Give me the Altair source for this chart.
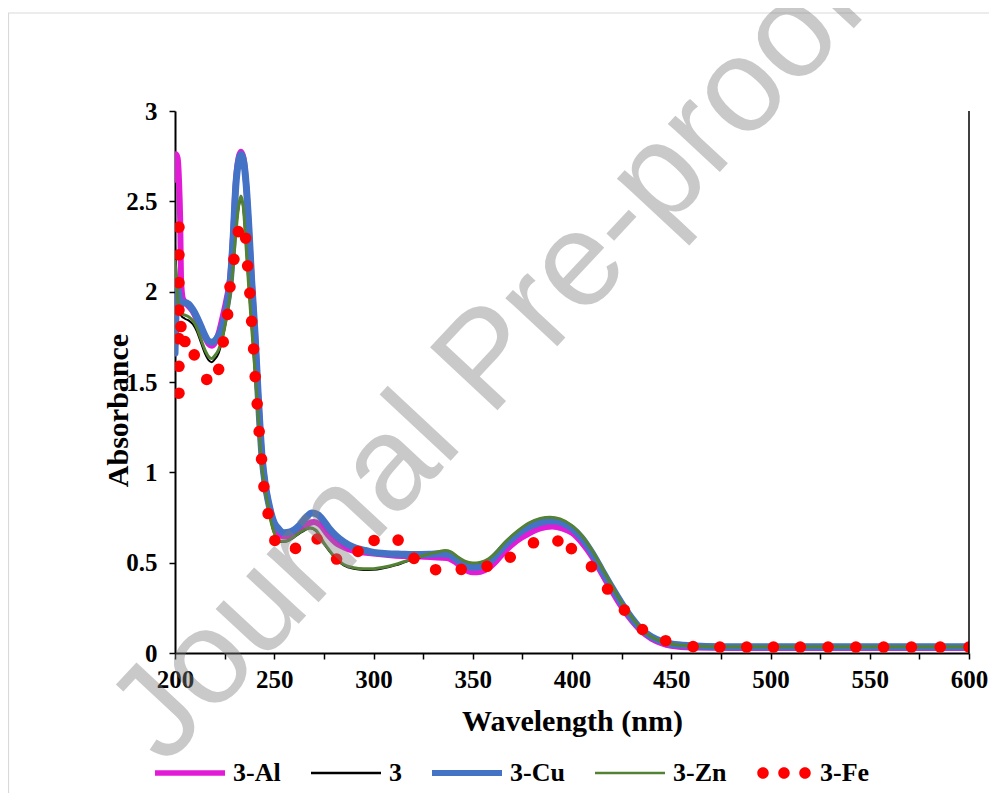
import altair as alt
import pandas as pd

# ---------------- data ----------------
series_names = ["3-Al", "3", "3-Cu", "3-Zn", "3-Fe"]
series_colors = ["#E21CD6", "#000000", "#4472C4", "#548235", "#FF0000"]

al_wl = [200, 200.4, 201.3, 202.0, 202.6, 203.1, 204, 206, 209, 212, 215, 217, 218.5, 220, 222, 224, 226,
         227.8, 229.3, 230.6, 232, 233.2, 234.5, 235.8, 237.2, 238.6, 240.3, 241.9, 243.9, 245.5, 247, 248.5,
         250, 253, 256, 260, 264, 268, 270, 273, 277, 281, 285, 290, 300, 310, 320, 330, 337, 341, 345, 350,
         354, 358, 362, 366, 372, 378, 384, 390, 395, 400, 405, 410, 415, 420, 425, 430, 435, 440, 445, 450,
         460, 480, 600]
al_abs = [2.62, 2.76, 2.74, 2.62, 2.4, 2.05, 1.96, 1.93, 1.89, 1.82, 1.75, 1.71, 1.70, 1.715, 1.77, 1.86, 1.96,
          2.08, 2.32, 2.6, 2.74, 2.775, 2.74, 2.6, 2.35, 2.07, 1.77, 1.43, 1.08, 0.93, 0.84, 0.77,
          0.71, 0.65, 0.645, 0.66, 0.69, 0.72, 0.725, 0.71, 0.655, 0.61, 0.585, 0.565, 0.55, 0.54, 0.535, 0.53,
          0.525, 0.505, 0.47, 0.447, 0.45, 0.47, 0.51, 0.56, 0.62, 0.66, 0.69, 0.70, 0.69, 0.665, 0.61, 0.535,
          0.44, 0.345, 0.255, 0.18, 0.12, 0.08, 0.055, 0.04, 0.03, 0.028, 0.028]

b_wl = [200, 201, 202, 203, 205, 207, 209, 211, 213, 215, 217, 218.5, 220, 222, 224, 226, 228.5, 230.3, 232,
        233.2, 234.4, 235.8, 237, 238.3, 240, 241.5, 243.5, 245.2, 246.8, 248.5, 250, 252, 253, 256, 260, 264,
        268, 271, 275, 278, 281, 285, 290, 295, 300, 305, 311, 316, 321, 327, 333, 336, 339, 342, 346, 350,
        354, 358, 362, 366, 372, 378, 384, 389, 394, 400, 405, 410, 415, 420, 425, 430, 435, 440, 445, 450,
        460, 475, 600]
b_abs = [2.26, 2.05, 1.92, 1.87, 1.85, 1.84, 1.82, 1.78, 1.72, 1.66, 1.62, 1.61, 1.625, 1.66, 1.74, 1.86, 2.065,
         2.3, 2.46, 2.51, 2.46, 2.25, 2.05, 1.85, 1.6, 1.38, 1.06, 0.92, 0.82, 0.72, 0.66, 0.625, 0.615, 0.617,
         0.64, 0.67, 0.69, 0.675, 0.605, 0.56, 0.52, 0.485, 0.466, 0.46, 0.461, 0.469, 0.485, 0.503, 0.52,
         0.542, 0.56, 0.565, 0.558, 0.533, 0.505, 0.495, 0.5, 0.519, 0.557, 0.607, 0.668, 0.716, 0.743, 0.75,
         0.74, 0.703, 0.648, 0.568, 0.473, 0.373, 0.278, 0.198, 0.134, 0.09, 0.065, 0.05, 0.04, 0.035, 0.035]

cu_wl = [200, 200.6, 201.3, 202, 203, 205, 207, 209, 211, 213, 215, 217, 218.5, 221, 223, 225, 226.5, 227.9,
         229.3, 230.6, 232, 233.3, 234.6, 235.8, 237.2, 238.6, 240.3, 241.9, 243.9, 245.5, 247, 248.5, 250, 252,
         255, 258, 263, 266, 269, 272, 275, 278, 281, 285, 290, 295, 300, 307, 314, 320, 328, 334, 338, 341,
         344, 347, 350, 354, 357, 360, 364, 370, 376, 382, 388, 392, 396, 400, 405, 410, 415, 420, 425, 430,
         435, 440, 445, 450, 460, 475, 600]
cu_abs = [1.66, 1.92, 2.02, 1.98, 1.93, 1.94, 1.93, 1.9, 1.86, 1.81, 1.76, 1.725, 1.72, 1.74, 1.78, 1.86, 1.95,
          2.065, 2.3, 2.58, 2.72, 2.76, 2.72, 2.6, 2.36, 2.065, 1.77, 1.43, 1.08, 0.93, 0.84, 0.77, 0.72, 0.69,
          0.665, 0.67, 0.71, 0.75, 0.775, 0.765, 0.73, 0.685, 0.65, 0.615, 0.585, 0.57, 0.557, 0.55, 0.547,
          0.545, 0.546, 0.55, 0.545, 0.525, 0.5, 0.482, 0.475, 0.478, 0.493, 0.52, 0.57, 0.635, 0.685, 0.715,
          0.73, 0.73, 0.715, 0.69, 0.635, 0.555, 0.46, 0.365, 0.275, 0.195, 0.13, 0.09, 0.065, 0.05, 0.04,
          0.035, 0.035]

zn_wl = [200, 200.6, 201.5, 203, 205, 207, 209, 211, 213, 215, 217, 218.5, 220, 222, 224, 226, 228.7, 230.5,
         232, 233.2, 234.4, 235.8, 237, 238.3, 240, 241.5, 243.5, 245.2, 246.8, 248.5, 250, 252, 253, 256, 260,
         264, 268, 271, 275, 278, 281, 285, 290, 295, 300, 305, 311, 316, 321, 327, 333, 336, 339, 342, 346,
         350, 354, 358, 362, 366, 372, 378, 384, 389, 394, 400, 405, 410, 415, 420, 425, 430, 435, 440, 445,
         450, 460, 475, 600]
zn_abs = [2.17, 2.08, 1.95, 1.88, 1.87, 1.86, 1.84, 1.8, 1.74, 1.68, 1.64, 1.63, 1.645, 1.68, 1.75, 1.86, 2.065,
          2.3, 2.47, 2.53, 2.47, 2.25, 2.05, 1.85, 1.6, 1.38, 1.06, 0.92, 0.82, 0.72, 0.665, 0.63, 0.618, 0.62,
          0.645, 0.675, 0.693, 0.68, 0.61, 0.565, 0.525, 0.49, 0.472, 0.466, 0.467, 0.475, 0.49, 0.508, 0.525,
          0.545, 0.562, 0.567, 0.56, 0.535, 0.508, 0.498, 0.503, 0.522, 0.56, 0.61, 0.67, 0.718, 0.745, 0.752,
          0.742, 0.705, 0.65, 0.57, 0.475, 0.375, 0.28, 0.2, 0.135, 0.09, 0.065, 0.05, 0.04, 0.035, 0.035]

fe_wl = [202.0, 202.0, 202.0, 202.0, 202.0, 202.0, 202.0, 203.0, 205.0, 209.7, 216.0, 222.0, 224.3, 226.5,
         227.7, 229.7, 231.9, 235.6, 236.6, 237.7, 238.6, 239.6, 240.4, 241.4, 242.4, 243.6, 244.8, 246.9,
         250.3, 260.7, 271.6, 281.4, 292.2, 300.3, 312.4, 320.4, 331.3, 344.2, 357.2, 368.9, 380.6, 392.9,
         399.7, 409.8, 417.9, 426.4, 435.5, 447.2, 461, 474.5, 488, 501.5, 515, 529, 543, 557, 571, 585.5, 600]
fe_abs = [1.438, 1.587, 1.74, 1.898, 2.05, 2.204, 2.357, 1.807, 1.724, 1.65, 1.514, 1.57, 1.722, 1.874,
          2.027, 2.179, 2.332, 2.296, 2.143, 1.992, 1.836, 1.683, 1.53, 1.379, 1.226, 1.073, 0.921, 0.772,
          0.623, 0.579, 0.631, 0.52, 0.562, 0.623, 0.625, 0.524, 0.461, 0.463, 0.48, 0.53, 0.61, 0.62,
          0.578, 0.478, 0.354, 0.237, 0.13, 0.068, 0.035, 0.033, 0.033, 0.033, 0.033, 0.033, 0.033, 0.033,
          0.033, 0.033, 0.033]

x_ticks = list(range(200, 601, 25))
y_ticks = [0, 0.5, 1, 1.5, 2, 2.5, 3]
watermark = ["Journal Pre-proof"]
frame = ["frame"]

# legend symbols (unit = 5 px at symbolSize 100)
def bar_path(h):
    return f"M-7,{-h}L7,{-h}L7,{h}L-7,{h}Z"

def dots_path(xs, r):
    parts = []
    for cx in xs:
        parts.append(f"M{cx - r},0A{r},{r} 0 1,0 {cx + r},0A{r},{r} 0 1,0 {cx - r},0Z")
    return "".join(parts)

legend_shapes = [bar_path(0.55), bar_path(0.25), bar_path(0.62), bar_path(0.27),
                 dots_path([-2.8, 1.4, 5.6], 1.15)]

# ---------------- chart ----------------
serif = "Liberation Serif"

x_enc = alt.X("wl:Q",
              scale=alt.Scale(domain=[200, 600], nice=False, zero=False),
              axis=alt.Axis(values=x_ticks, format="d",
                            labelExpr="datum.value % 50 == 0 ? datum.label : ''",
                            tickSize=6, tickWidth=1.5, domainWidth=2, labelPadding=8,
                            labelFontSize=25, titleFontSize=30, titleY=77,
                            titleBaseline="alphabetic", labelFlush=False, labelOverlap=False,
                            grid=False),
              title="Wavelength (nm)")
y_enc = alt.Y("abs:Q",
              scale=alt.Scale(domain=[0, 3], nice=False),
              axis=alt.Axis(values=y_ticks, format="~g", tickSize=6, tickWidth=1.5, domainWidth=2,
                            labelPadding=12, labelFontSize=25, titleFontSize=30,
                            titleX=-57, titleY=299, titleAngle=270, titleBaseline="middle",
                            titleAlign="center", labelFlush=False, labelOverlap=False, grid=False),
              title="Absorbance")


def line_layer(wl, ab, color, width):
    df = pd.DataFrame({"wl": wl, "abs": ab})
    return alt.Chart(df).mark_line(color=color, strokeWidth=width, interpolate="monotone",
                                   clip=True, strokeJoin="round", strokeCap="round").encode(x=x_enc, y=y_enc)


al_layer = line_layer(al_wl, al_abs, series_colors[0], 6)
b_layer = line_layer(b_wl, b_abs, series_colors[1], 2)
cu_layer = line_layer(cu_wl, cu_abs, series_colors[2], 7)
zn_layer = line_layer(zn_wl, zn_abs, series_colors[3], 3)

fe_layer = alt.Chart(pd.DataFrame({"wl": fe_wl, "abs": fe_abs})).mark_circle(
    color=series_colors[4], size=135, opacity=1, clip=True).encode(x=x_enc, y=y_enc)

border_layer = alt.Chart(pd.DataFrame({"wl": [600]})).mark_rule(
    color="black", strokeWidth=1.5).encode(x=x_enc)

legend_def = alt.Legend(title=None, orient="none", legendX=2, legendY=649, direction="horizontal",
                        symbolSize=100, symbolStrokeWidth=0, symbolOpacity=1,
                        labelFont=serif, labelFontSize=26, labelFontWeight="bold", labelColor="black",
                        labelOffset=30, columnPadding=30, padding=0, labelLimit=0)

legend_layer = alt.Chart(pd.DataFrame({"series": series_names, "wl": [700] * 5, "abs": [1.0] * 5})).mark_point(
    filled=True, clip=True, size=100, opacity=1, strokeWidth=0).encode(
    x=x_enc, y=y_enc,
    color=alt.Color("series:N", scale=alt.Scale(domain=series_names, range=series_colors), legend=legend_def),
    shape=alt.Shape("series:N", scale=alt.Scale(domain=series_names, range=legend_shapes), legend=legend_def),
)

# light grey chart-area frame (decoration, like the reference's outer border)
frame_layer = alt.Chart(pd.DataFrame({"f": frame})).mark_rect(
    fill=None, stroke="#D9D9D9", strokeWidth=1.2).encode(
    x=alt.value(-166.5), x2=alt.value(900), y=alt.value(-98), y2=alt.value(800))

wm_layer = alt.Chart(pd.DataFrame({"t": watermark})).mark_text(
    angle=313, fontSize=134, font="Liberation Sans", color="#7f7f7f", opacity=0.42,
    align="left", baseline="alphabetic").encode(text="t:N", x=alt.value(-10), y=alt.value(656))

chart = alt.layer(frame_layer, al_layer, b_layer, cu_layer, zn_layer, fe_layer, border_layer, legend_layer,
                  wm_layer).properties(
    width=794, height=542,
    autosize=alt.AutoSizeParams(type="none"),
    padding={"left": 167, "top": 103, "right": 20, "bottom": 140},
).configure_axis(
    labelFont=serif, labelFontWeight="bold", labelColor="black",
    titleFont=serif, titleFontWeight="bold", titleColor="black",
    domainColor="black", tickColor="black",
).configure_view(stroke=None)

chart.save("out.html", embed_options={"renderer": "svg", "actions": False})
